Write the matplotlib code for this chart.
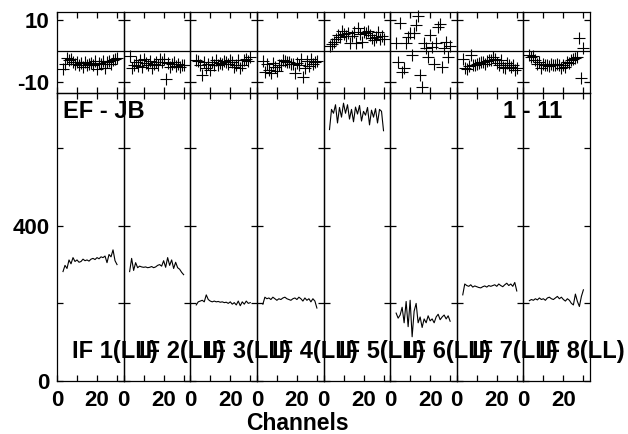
import numpy as np
import matplotlib
matplotlib.use("Agg")
import matplotlib.pyplot as plt
from matplotlib.transforms import blended_transform_factory

plt.rcParams['font.family'] = ['Liberation Sans', 'DejaVu Sans']
plt.rcParams['font.weight'] = 'bold'

channels = np.arange(3, 31)
if_labels = ["IF 1(LL)", "IF 2(LL)", "IF 3(LL)", "IF 4(LL)",
             "IF 5(LL)", "IF 6(LL)", "IF 7(LL)", "IF 8(LL)"]

amp1 = [282, 298, 290, 312, 302, 318, 308, 312, 306, 308, 314, 310, 312, 309,
        314, 316, 313, 318, 315, 320, 318, 322, 305, 326, 320, 338, 310, 300]
amp2 = [282, 316, 285, 305, 292, 296, 294, 293, 294, 292, 293, 295, 292, 294,
        298, 300, 296, 310, 293, 318, 298, 312, 290, 306, 292, 288, 280, 274]
amp3 = [196, 204, 206, 208, 204, 222, 210, 206, 204, 206, 204, 205, 203, 204,
        202, 203, 200, 204, 198, 202, 196, 206, 194, 204, 198, 206, 200, 202]
amp4 = [198, 216, 212, 214, 210, 216, 212, 208, 212, 210, 214, 216, 212, 210,
        208, 212, 214, 210, 216, 212, 206, 214, 208, 212, 204, 212, 206, 188]
amp5 = [648, 700, 690, 712, 665, 705, 680, 716, 690, 712, 675, 700, 668, 706,
        688, 710, 670, 695, 685, 705, 660, 698, 680, 702, 665, 700, 695, 645]
amp6 = [175, 162, 170, 190, 150, 205, 140, 208, 114, 180, 200, 150, 165, 138,
        160, 150, 168, 155, 160, 150, 165, 172, 158, 165, 170, 160, 168, 154]
amp7 = [222, 250, 246, 244, 248, 242, 245, 243, 241, 240, 243, 245, 242, 246,
        244, 246, 248, 244, 250, 246, 243, 248, 252, 246, 250, 244, 254, 232]
amp8 = [207, 210, 208, 212, 209, 214, 210, 212, 208, 214, 216, 212, 210, 214,
        218, 212, 216, 210, 206, 212, 208, 200, 196, 224, 205, 192, 218, 235]

ph1 = [-5.8, -4.2, -2.2, -3.0, -2.5, -3.4, -4.0, -3.6, -4.6, -3.8, -5.2, -3.5, -4.4, -4.0,
       -3.8, -4.6, -3.2, -5.8, -3.9, -4.2, -3.3, -5.4, -3.6, -3.2, -4.0, -3.0, -2.6, -2.2]
ph2 = [-1.7, -5.4, -4.6, -3.6, -4.8, -3.0, -5.2, -2.7, -3.8, -4.4, -3.2, -5.6, -4.2, -3.4,
       -4.4, -2.4, -3.6, -2.6, -9.0, -3.8, -5.2, -4.0, -3.6, -4.8, -4.2, -5.0, -4.4, -4.6]
ph3 = [-2.9, -3.2, -4.5, -7.7, -3.6, -5.4, -4.0, -6.2, -3.4, -4.6, -3.0, -4.4, -3.8, -4.2,
       -3.2, -3.6, -4.0, -2.8, -3.4, -5.0, -4.4, -3.0, -5.6, -4.4, -3.0, -2.6, -3.2, -1.8]
ph4 = [-3.2, -6.8, -4.0, -6.0, -7.0, -3.8, -5.2, -6.4, -4.4, -4.6, -3.0, -3.2, -3.6, -3.4,
       -4.0, -4.2, -7.0, -3.8, -4.6, -2.6, -8.3, -5.4, -3.2, -4.8, -2.4, -4.0, -3.6, -3.2]
ph5 = [1.6, 2.2, 3.0, 4.0, 5.2, 4.6, 6.5, 5.6, 4.8, 5.8, 2.7, 5.0, 6.2, 2.7,
       7.3, 5.4, 2.8, 6.0, 5.9, 6.4, 5.2, 4.1, 3.6, 4.4, 6.2, 3.8, 5.0, 3.8]
ph6 = [2.5, -3.5, 8.9, -6.7, -5.6, 2.5, 4.6, 5.7, -1.3, 5.8, 8.4, 11.3, -7.7, -11.7,
       2.5, 0.9, -1.8, 5.2, 1.3, -4.0, 2.5, 7.8, 8.7, -5.1, 0.9, 3.0, -2.0, 1.5]
ph7 = [-2.4, -5.6, -5.9, -4.8, -1.3, -4.5, -4.6, -4.2, -3.8, -3.6, -3.4, -4.0, -3.2, -2.8,
       -3.0, -1.8, -2.6, -3.8, -4.4, -3.0, -5.0, -5.6, -3.8, -4.6, -5.0, -4.6, -6.1, -5.6]
ph8 = [-1.3, -2.0, -1.6, -2.9, -4.0, -3.5, -5.6, -4.2, -4.6, -4.4, -4.8, -4.2, -4.4, -4.6,
       -4.0, -4.4, -5.6, -4.4, -5.0, -3.6, -3.8, -2.9, -2.6, -2.2, -2.0, 4.2, -8.8, 0.9]

amps = [amp1, amp2, amp3, amp4, amp5, amp6, amp7, amp8]
phases = [ph1, ph2, ph3, ph4, ph5, ph6, ph7, ph8]

amp_ticks = [0, 200, 400, 600]
amp_ticklabels = ['0', '', '400', '']
ph_ticks = [-10, 10]
ph_ticklabels = ['-10', '10']
ch_ticks = [0, 10, 20, 30]
ch_ticklabels = ['0', '', '20', '']

W, H = 628, 434
fig = plt.figure(figsize=(W / 100, H / 100), dpi=100)
fig.patch.set_facecolor('white')
gs = fig.add_gridspec(2, 8, left=57 / W, right=590 / W, top=1 - 12.3 / H,
                      bottom=1 - 381 / H, wspace=0, hspace=0,
                      height_ratios=[80.4, 288.3])

FS = 16
for i in range(8):
    axp = fig.add_subplot(gs[0, i])
    axa = fig.add_subplot(gs[1, i])
    for ax in (axp, axa):
        ax.set_facecolor('none')
        ax.set_xlim(0, 33.3)
        for s in ax.spines.values():
            s.set_linewidth(0.9)
        ax.set_xticks(ch_ticks)
        ax.tick_params(direction='in', length=4.5, width=0.9, top=True,
                       right=True, labelsize=FS, pad=6.5)
    axp.plot(channels, phases[i], linestyle='none', marker='+', color='black',
             markersize=8, markeredgewidth=0.8, clip_on=False)
    axp.axhline(0, color='black', lw=0.9)
    axp.set_ylim(-13.4, 12.5)
    axp.set_yticks(ph_ticks)
    axp.tick_params(labelbottom=False)

    axa.plot(channels, amps[i], color='black', lw=0.8)
    axa.set_ylim(0, 743)
    axa.set_yticks(amp_ticks)
    axa.set_xticklabels(ch_ticklabels)

    if i == 0:
        axp.set_yticklabels(ph_ticklabels)
        axa.set_yticklabels(amp_ticklabels)
        axp.tick_params(axis='y', pad=5.5)
        axa.tick_params(axis='y', pad=5.5)
    else:
        axp.tick_params(labelleft=False)
        axa.tick_params(labelleft=False)

    tr = blended_transform_factory(axa.transData, axa.transAxes)
    axa.text(7.6, 0.104, if_labels[i], transform=tr, ha='left', va='center',
             fontsize=17, fontweight='bold', clip_on=False, zorder=10)

fig.text(63 / W, 1 - 112 / H, "EF - JB", ha='left', va='center',
         fontsize=17, fontweight='bold')
fig.text(562 / W, 1 - 112 / H, "1 - 11", ha='right', va='center',
         fontsize=17, fontweight='bold')
fig.text(297.5 / W, 1 - 424 / H, "Channels", ha='center', va='center',
         fontsize=16.5, fontweight='bold')

fig.savefig("out.png", dpi=100, facecolor='white')
